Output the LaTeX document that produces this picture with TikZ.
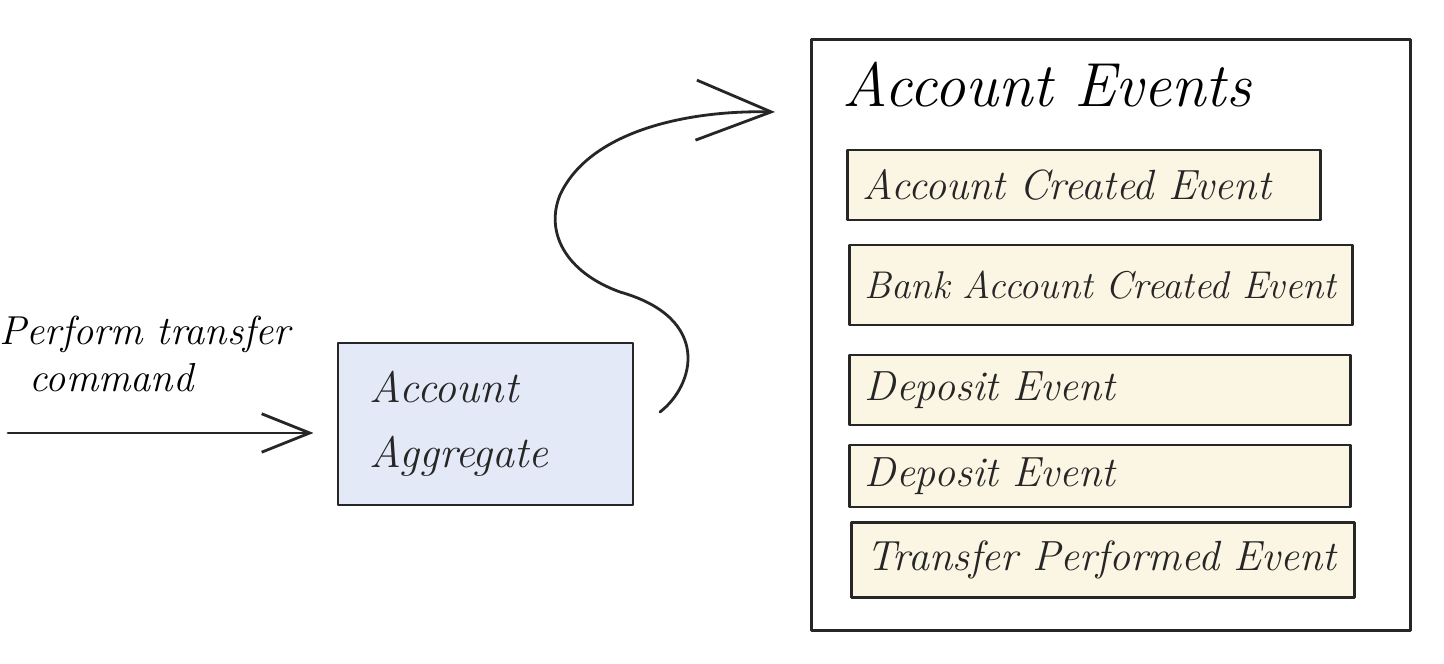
\documentclass[tikz,border=0pt]{standalone}
\usepackage{tikz}
\usetikzlibrary{arrows.meta,positioning}
\definecolor{aggblue}{HTML}{E4E9F8}
\definecolor{evyellow}{HTML}{FBF6E3}

\begin{document}
\begin{tikzpicture}[x=0.01cm,y=-0.01cm,
	hand/.style={line width=0.8pt,black!85,line cap=round,line join=round},
	handarrow/.style={hand,-{Straight Barb[length=#1,width=0.8*#1]}},
	aggbox/.style={hand,draw,fill=aggblue,align=left,inner xsep=0.32cm,font=\fontsize{12.5}{18.5}\selectfont\itshape},
	evbox/.style={hand,draw,fill=evyellow,align=left,inner xsep=0.15cm,font=\fontsize{12}{14}\selectfont\itshape}]
					\useasboundingbox (0,0) rectangle (1444,664);
					\node[align=left,font=\fontsize{11.5}{13.5}\selectfont\itshape] (cmd) at (145,354) {Perform transfer\\\hspace*{0.3cm}command};
					\coordinate (in) at (8,433);
					\node[aggbox,text width=2.31cm,minimum height=1.62cm] (agg) at (485.5,424) {Account\\Aggregate};
					\draw[handarrow=0.48cm,shorten >=0.23cm] (in) -- (agg.west |- in);
					\node[hand,draw,minimum width=5.98cm,minimum height=5.9cm] (events) at (1111,335) {};
					\node[anchor=west,font=\fontsize{17.7}{20}\selectfont\itshape] (title) at (830,85) {Account Events};
					\node[evbox,text width=4.42cm,minimum height=0.7cm] (ev1) at (1084,185) {Account Created Event};
					\node[evbox,text width=4.72cm,minimum height=0.8cm,font=\fontsize{11}{13}\selectfont\itshape] (ev2) at (1101,285) {Bank Account Created Event};
					\node[evbox,text width=4.70cm,minimum height=0.7cm] (ev3) at (1100,390) {Deposit Event};
					\node[evbox,text width=4.70cm,minimum height=0.62cm] (ev4) at (1100,476) {Deposit Event};
					\node[evbox,text width=4.73cm,minimum height=0.75cm] (ev5) at (1103,560) {Transfer Performed Event};
					\coordinate (cs) at (660,412);
					\coordinate (ce) at (775,112);
					\draw[handarrow=0.75cm] (cs) .. controls (695,385) and (712,318) .. (620,292)
						.. controls (565,272) and (545,232) .. (560,195)
						.. controls (590,130) and (690,110) .. (ce);
				\end{tikzpicture}
\end{document}
